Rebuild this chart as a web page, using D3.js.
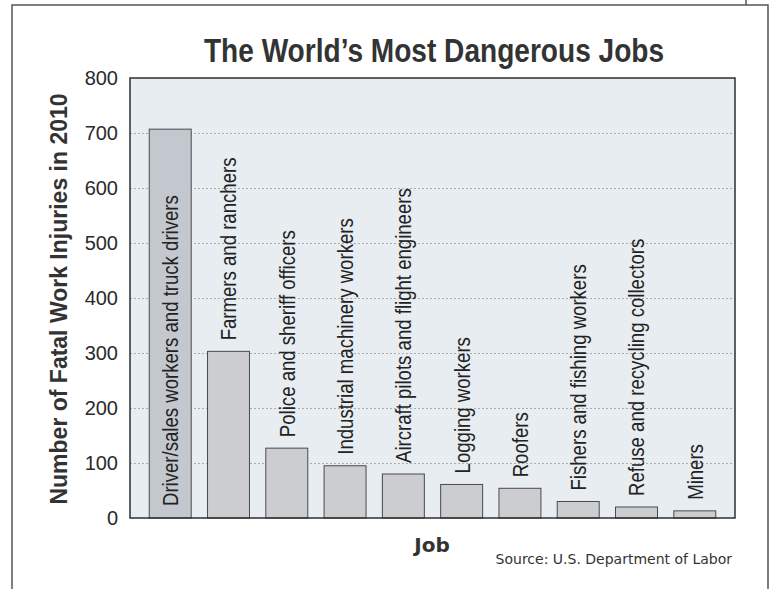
<!DOCTYPE html>
<html>
<head>
<meta charset="utf-8">
<script src="https://cdn.jsdelivr.net/npm/d3@7"></script>
<style>
  body { margin: 0; background: #fff; }
  svg { display: block; }
</style>
</head>
<body>
<svg id="chart" width="773" height="589"></svg>
<script>
// ---- data ----
const jobs = [
  "Driver/sales workers and truck drivers",
  "Farmers and ranchers",
  "Police and sheriff officers",
  "Industrial machinery workers",
  "Aircraft pilots and flight engineers",
  "Logging workers",
  "Roofers",
  "Fishers and fishing workers",
  "Refuse and recycling collectors",
  "Miners"
];
const fatalities = [707, 303, 127, 95, 80, 61, 54, 30, 20, 13];
const yTicks = [0, 100, 200, 300, 400, 500, 600, 700, 800];
const titleText = "The World\u2019s Most Dangerous Jobs";
const yTitle = "Number of Fatal Work Injuries in 2010";
const xTitle = "Job";
const sourceText = "Source: U.S. Department of Labor";

const data = jobs.map((j, i) => ({ job: j, value: fatalities[i] }));

const svg = d3.select("#chart");
const plot = { left: 130, right: 735, top: 78, bottom: 518 };
const condense = 0.845;

// outer page frame (scanned box)
svg.append("rect")
  .attr("x", 12).attr("y", 5).attr("width", 756).attr("height", 640)
  .attr("fill", "#fff").attr("stroke", "#555").attr("stroke-width", 1.5);
svg.append("line").attr("x1", 746).attr("x2", 746).attr("y1", 0).attr("y2", 5)
  .attr("stroke", "#555").attr("stroke-width", 1.5);

const x = d3.scaleBand()
  .domain(jobs)
  .range([plot.left, plot.right])
  .paddingInner(0.28)
  .paddingOuter(0.33);

const y = d3.scaleLinear()
  .domain([0, 800])
  .range([plot.bottom, plot.top]);

// plot background
svg.append("rect")
  .attr("x", plot.left).attr("y", plot.top)
  .attr("width", plot.right - plot.left).attr("height", plot.bottom - plot.top)
  .attr("fill", "#e7edf1");

// gridlines
const grid = svg.append("g")
  .attr("transform", `translate(${plot.left},0)`)
  .call(d3.axisLeft(y).tickValues(yTicks.filter(t => t > 0 && t < 800))
    .tickSize(-(plot.right - plot.left)).tickFormat(""));
grid.select(".domain").remove();
grid.selectAll(".tick line")
  .attr("stroke", "#a9adb2").attr("stroke-width", 1).attr("stroke-dasharray", "2,2");

// bars
svg.append("g").selectAll("rect")
  .data(data)
  .join("rect")
  .attr("x", d => x(d.job))
  .attr("y", d => y(d.value))
  .attr("width", x.bandwidth())
  .attr("height", d => y(0) - y(d.value))
  .attr("fill", (d, i) => i === 0 ? "#c2c8ce" : "#cbcdd0")
  .attr("stroke", "#4a4a4a")
  .attr("stroke-width", 1);

// bar labels (rotated, condensed)
svg.append("g").selectAll("text")
  .data(data)
  .join("text")
  .attr("transform", d => {
    const cx = x(d.job) + x.bandwidth() / 2;
    const inside = d.value > 600;
    const yy = inside ? y(0) - 12 : y(d.value) - 11;
    return `translate(${cx},${yy}) rotate(-90) scale(${condense},1)`;
  })
  .attr("dy", "0.36em")
  .attr("text-anchor", "start")
  .attr("font-family", "'Liberation Sans', Arial, sans-serif")
  .attr("font-size", 22)
  .attr("fill", "#222")
  .text(d => d.job);

// plot frame
svg.append("rect")
  .attr("x", plot.left).attr("y", plot.top)
  .attr("width", plot.right - plot.left).attr("height", plot.bottom - plot.top)
  .attr("fill", "none").attr("stroke", "#2e2e2e").attr("stroke-width", 1.5);

// y axis labels
const yAxis = svg.append("g")
  .attr("transform", `translate(${plot.left},0)`)
  .call(d3.axisLeft(y).tickValues(yTicks).tickSize(0).tickPadding(12));
yAxis.select(".domain").remove();
yAxis.selectAll("text")
  .attr("font-family", "'Liberation Sans', Arial, sans-serif")
  .attr("font-size", 20)
  .attr("fill", "#2a2a2a");

// title
svg.append("text")
  .attr("transform", "translate(434,62) scale(0.826,1)")
  .attr("text-anchor", "middle")
  .attr("font-family", "'Liberation Sans', Arial, sans-serif")
  .attr("font-weight", "bold")
  .attr("font-size", 34)
  .attr("fill", "#333")
  .text(titleText);

// y title
svg.append("text")
  .attr("transform", "translate(67,299) rotate(-90)")
  .attr("text-anchor", "middle")
  .attr("font-family", "'Liberation Sans', Arial, sans-serif")
  .attr("font-weight", "bold")
  .attr("font-size", 23)
  .attr("fill", "#333")
  .text(yTitle);

// x title
svg.append("text")
  .attr("x", 432).attr("y", 552)
  .attr("text-anchor", "middle")
  .attr("font-family", "'DejaVu Sans', Verdana, sans-serif")
  .attr("font-weight", "bold")
  .attr("font-size", 20)
  .attr("fill", "#333")
  .text(xTitle);

// source
svg.append("text")
  .attr("x", 732).attr("y", 564)
  .attr("text-anchor", "end")
  .attr("font-family", "'DejaVu Sans', Verdana, sans-serif")
  .attr("font-size", 14)
  .attr("fill", "#333")
  .text(sourceText);
</script>
</body>
</html>
